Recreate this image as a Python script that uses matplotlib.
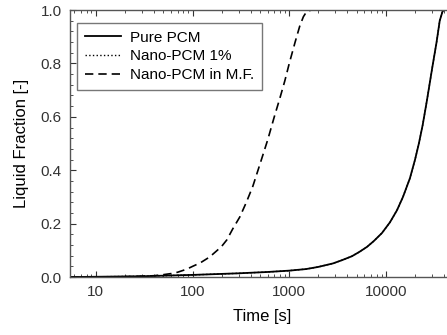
import matplotlib
matplotlib.use("Agg")
import matplotlib.pyplot as plt
from matplotlib.ticker import AutoMinorLocator, FixedLocator, LogLocator, NullFormatter

plt.rcParams['font.family'] = ['Liberation Sans', 'DejaVu Sans']

# tiempos y fracción líquida
t_pure = [5.4, 10, 30, 100, 300, 600, 1000, 1500, 2000, 2830, 3500, 4450, 5300,
          6370, 7500, 9100, 11000, 13000, 15000, 17700, 20000, 21900, 24000,
          26500, 30000, 33400, 36000, 38500, 40000, 60000]
lf_pure = [0.0, 0.001, 0.003, 0.008, 0.014, 0.019, 0.024, 0.030, 0.038, 0.051,
           0.063, 0.078, 0.094, 0.113, 0.135, 0.165, 0.205, 0.25, 0.30, 0.37,
           0.44, 0.50, 0.57, 0.66, 0.78, 0.88, 0.96, 0.995, 1.0, 1.0]

t_nano = t_pure
lf_nano = lf_pure

t_mf = [5.4, 10, 20, 30, 40, 50, 60, 70, 80, 90, 100, 120, 150, 180, 200, 226,
        260, 308, 360, 420, 500, 600, 700, 800, 900, 1000, 1150, 1284, 1400,
        1517, 1700, 60000]
lf_mf = [0.0, 0.0005, 0.001, 0.003, 0.005, 0.009, 0.013, 0.018, 0.025, 0.032,
         0.04, 0.053, 0.075, 0.10, 0.115, 0.139, 0.18, 0.225, 0.28, 0.34,
         0.425, 0.515, 0.60, 0.67, 0.735, 0.80, 0.88, 0.94, 0.975, 0.995, 1.0, 1.0]

fig = plt.figure(figsize=(4.47, 3.35), dpi=100)
ax = fig.add_axes([0.1566, 0.173, 0.858, 0.797])

ax.plot(t_pure, lf_pure, color='black', lw=1.3, ls='-', label='Pure PCM')
ax.plot(t_nano, lf_nano, color='black', lw=1.0, ls=':', label='Nano-PCM 1%')
ax.plot(t_mf, lf_mf, color='black', lw=1.2, ls=(0, (5, 3)), label='Nano-PCM in M.F.')

ax.set_xscale('log')
ax.set_xlim(5.4, 50000)
ax.set_ylim(0, 1.0)
ax.xaxis.set_major_locator(FixedLocator([10, 100, 1000, 10000]))
ax.set_xticklabels(['10', '100', '1000', '10000'])
ax.xaxis.set_minor_locator(LogLocator(base=10, subs=range(2, 10)))
ax.xaxis.set_minor_formatter(NullFormatter())
ax.set_yticks([0.0, 0.2, 0.4, 0.6, 0.8, 1.0])
ax.yaxis.set_minor_locator(AutoMinorLocator(5))

ax.tick_params(which='both', direction='in', top=True, right=True,
               labelsize=11, colors='#333333')
ax.tick_params(which='major', length=4, pad=6)
ax.tick_params(which='minor', length=2)
for s in ax.spines.values():
    s.set_color('#555555')
    s.set_linewidth(1.0)

ax.set_xlabel('Time [s]', fontsize=12, labelpad=7)
ax.set_ylabel('Liquid Fraction [-]', fontsize=12, labelpad=8)

leg = ax.legend(loc='upper left', bbox_to_anchor=(0.018, 0.951), fontsize=11,
                handlelength=2.4, fancybox=False, framealpha=1, borderaxespad=0,
                borderpad=0.5, labelspacing=0.3, handletextpad=0.6)
leg.get_frame().set_edgecolor('#777777')
leg.get_frame().set_linewidth(1.0)

fig.savefig('out.png', dpi=100)
